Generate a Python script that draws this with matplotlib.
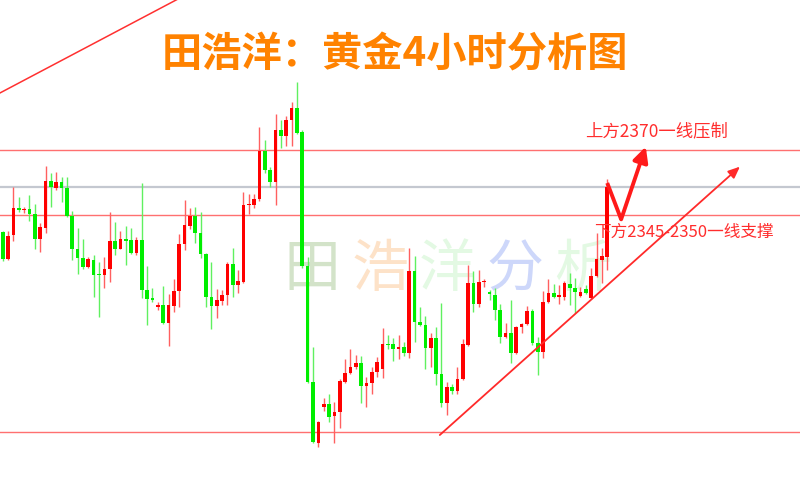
import matplotlib
matplotlib.use("Agg")
import matplotlib.pyplot as plt

plt.rcParams['font.family'] = ['Noto Sans CJK SC', 'DejaVu Sans']

# Gold 4-hour candles (price)
opens = [2345.4, 2337.3, 2344.5, 2352.6, 2352.0, 2352.3, 2350.8, 2343.3, 2346.6, 2360.7,
         2358.6, 2360.4, 2358.6, 2350.2, 2340.3, 2337.6, 2334.9, 2337.0, 2332.8, 2332.5,
         2334.3, 2342.7, 2340.3, 2343.3, 2343.0, 2339.1, 2343.0, 2328.0, 2325.6, 2322.9,
         2323.5, 2318.1, 2323.2, 2327.7, 2341.8, 2347.2, 2350.2, 2345.1, 2338.8, 2325.9,
         2323.2, 2324.7, 2326.5, 2335.8, 2329.5, 2330.4, 2353.5, 2353.5, 2355.3, 2369.7,
         2364.0, 2360.4, 2376.0, 2374.2, 2379.0, 2382.6, 2375.4, 2335.2, 2300.4, 2282.1,
         2292.9, 2293.8, 2290.2, 2291.4, 2300.4, 2303.1, 2304.9, 2306.1, 2299.2, 2300.1,
         2303.4, 2304.3, 2311.8, 2311.8, 2310.3, 2310.9, 2309.1, 2333.7, 2318.4, 2317.5,
         2310.6, 2313.6, 2302.8, 2294.1, 2298.9, 2297.7, 2301.3, 2311.5, 2330.1, 2323.8,
         2330.4, 2327.4, 2326.5, 2322.0, 2313.9, 2315.1, 2309.1, 2316.9, 2317.8, 2321.7,
         2312.1, 2309.4, 2324.4, 2327.1, 2326.0, 2325.9, 2329.8, 2328.6, 2326.2, 2328.3,
         2325.6, 2332.2, 2337.0, 2337.9]
highs = [2345.6, 2345.7, 2358.9, 2355.9, 2352.9, 2356.5, 2353.8, 2348.1, 2365.2, 2363.1,
         2363.4, 2361.9, 2361.9, 2351.7, 2346.6, 2343.3, 2337.9, 2338.5, 2336.4, 2337.9,
         2351.4, 2348.4, 2345.7, 2347.2, 2346.6, 2343.9, 2360.1, 2335.2, 2328.6, 2324.4,
         2329.2, 2326.8, 2331.3, 2344.8, 2355.0, 2352.6, 2352.9, 2351.4, 2339.1, 2336.4,
         2328.3, 2328.0, 2336.4, 2340.6, 2334.0, 2357.4, 2356.8, 2356.8, 2376.9, 2373.0,
         2364.9, 2380.8, 2379.0, 2380.2, 2384.4, 2390.4, 2376.0, 2337.9, 2310.9, 2288.7,
         2295.6, 2296.8, 2294.4, 2301.3, 2307.3, 2310.3, 2308.5, 2308.2, 2301.9, 2304.9,
         2307.9, 2316.6, 2314.5, 2313.6, 2314.5, 2312.4, 2340.6, 2338.2, 2322.9, 2320.2,
         2315.1, 2316.9, 2324.1, 2300.4, 2299.8, 2304.9, 2313.3, 2335.5, 2333.7, 2334.0,
         2331.3, 2328.0, 2328.6, 2323.8, 2318.1, 2325.0, 2317.2, 2318.1, 2323.2, 2322.3,
         2313.9, 2327.7, 2331.3, 2329.8, 2329.5, 2330.7, 2333.1, 2331.6, 2328.9, 2329.5,
         2334.6, 2345.1, 2340.6, 2361.3]
lows = [2336.7, 2337.0, 2342.7, 2351.4, 2351.1, 2348.7, 2340.3, 2339.4, 2345.1, 2352.9,
        2358.0, 2354.4, 2349.9, 2337.0, 2332.8, 2334.3, 2334.6, 2325.9, 2319.9, 2328.6,
        2330.4, 2338.5, 2340.3, 2335.5, 2338.8, 2338.5, 2325.6, 2317.5, 2324.4, 2322.0,
        2317.8, 2311.2, 2321.4, 2322.9, 2340.0, 2346.3, 2342.1, 2337.6, 2322.9, 2316.3,
        2319.6, 2323.5, 2323.5, 2325.9, 2327.1, 2330.1, 2350.8, 2352.6, 2354.7, 2363.1,
        2358.9, 2353.5, 2370.6, 2371.2, 2371.2, 2374.8, 2334.6, 2300.1, 2282.1, 2280.9,
        2291.7, 2288.4, 2282.1, 2286.6, 2300.1, 2302.8, 2304.3, 2294.1, 2292.9, 2296.8,
        2301.9, 2301.6, 2310.3, 2306.7, 2307.3, 2308.2, 2307.6, 2312.4, 2317.2, 2304.3,
        2304.9, 2299.5, 2292.9, 2290.5, 2296.8, 2296.8, 2301.0, 2311.2, 2321.4, 2322.9,
        2328.9, 2325.0, 2319.0, 2312.1, 2313.6, 2306.1, 2308.8, 2315.1, 2317.5, 2311.5,
        2302.5, 2307.6, 2324.1, 2325.6, 2323.8, 2325.0, 2323.5, 2321.1, 2325.9, 2326.8,
        2325.3, 2331.9, 2330.1, 2334.0]
closes = [2337.3, 2344.2, 2352.6, 2352.0, 2352.3, 2350.8, 2343.3, 2346.9, 2360.7, 2358.9,
          2360.4, 2358.6, 2350.2, 2340.3, 2337.6, 2334.9, 2337.3, 2332.5, 2332.5, 2334.3,
          2342.7, 2340.3, 2343.3, 2342.7, 2339.1, 2343.0, 2328.0, 2325.3, 2325.0, 2323.5,
          2318.1, 2323.5, 2327.7, 2341.8, 2347.5, 2350.2, 2345.1, 2338.8, 2325.9, 2323.2,
          2325.0, 2326.5, 2335.8, 2329.5, 2330.7, 2353.5, 2353.8, 2355.3, 2369.7, 2364.0,
          2360.4, 2376.0, 2374.2, 2379.0, 2382.6, 2375.1, 2335.2, 2300.4, 2282.4, 2288.4,
          2293.8, 2289.9, 2291.4, 2300.7, 2303.1, 2304.9, 2306.1, 2299.2, 2300.1, 2303.4,
          2306.4, 2311.8, 2311.5, 2310.3, 2310.9, 2309.1, 2333.7, 2318.4, 2317.5, 2310.6,
          2313.6, 2302.8, 2294.1, 2298.9, 2297.7, 2301.3, 2311.8, 2330.1, 2323.8, 2330.4,
          2330.7, 2326.8, 2322.0, 2313.9, 2315.1, 2309.1, 2316.9, 2317.8, 2321.7, 2312.1,
          2309.4, 2324.4, 2327.1, 2325.9, 2326.3, 2330.1, 2328.6, 2327.4, 2327.4, 2327.1,
          2332.2, 2337.3, 2338.2, 2358.9]

# Horizontal levels
resistance = 2370.0
support = 2350.5
range_low = 2285.5

# Trend lines: (bar index, price) end points
uptrend = [(81.7, 2284.5), (137.8, 2365.0)]
old_line = [(-3.0, 2385.0), (33.0, 2415.5)]
path_arrow = [(113.0, 2360.1), (115.6, 2349.2), (120.2, 2371.0)]

title = "田浩洋：黄金4小时分析图"
label_res = "上方2370一线压制"
label_sup = "下方2345-2350一线支撑"
watermark = ["田", "浩", "洋", "分", "析"]
watermark_colors = ["#d3e3c9", "#fde2c8", "#e3f9e3", "#cdd7fa", "#e3f9e3"]

UP = "#ff0000"
DOWN = "#00ee00"

fig = plt.figure(figsize=(8, 4.8), dpi=100)
ax = fig.add_axes([0, 0, 1, 1])
ax.set_xlim(-0.505, 149.03)
ax.set_ylim(2271.0, 2415.0)
ax.axis("off")

# watermark behind everything
for i, (ch, col) in enumerate(zip(watermark, watermark_colors)):
    ax.text(0.39 + i * 0.0845, 0.438, ch, transform=ax.transAxes, fontsize=41,
            color=col, ha="center", va="center", zorder=0)

# levels
ax.axhline(resistance, color="#ff7070", lw=1.0, zorder=1)
ax.axhline(support, color="#ff7070", lw=1.0, zorder=1)
ax.axhline(range_low, color="#ff7070", lw=1.0, zorder=1)
ax.axhline(closes[-1], color="#c4c8d0", lw=1.6, zorder=1)

# candles
xs = list(range(len(opens)))
for x, o, h, l, c in zip(xs, opens, highs, lows, closes):
    col = UP if c >= o else DOWN
    wick = "#ff6060" if c >= o else "#60f060"
    ax.vlines(x, l, h, color=wick, lw=1.0, zorder=2)
    bottom = min(o, c)
    height = max(abs(c - o), 0.35)
    ax.bar(x, height, bottom=bottom, width=0.68, color=col, lw=0, zorder=3)

# trend lines
ax.plot([p[0] for p in old_line], [p[1] for p in old_line], color="#ff3030", lw=1.1, zorder=2)
ax.annotate("", xy=uptrend[1], xytext=uptrend[0],
            arrowprops=dict(arrowstyle="-|>,head_length=0.7,head_width=0.3",
                            color="#ff2a2a", lw=1.3, shrinkA=0, shrinkB=0), zorder=4)

# projected path
ax.plot([path_arrow[0][0], path_arrow[1][0]], [path_arrow[0][1], path_arrow[1][1]],
        color="#ff1a1a", lw=2.8, solid_capstyle="butt", zorder=5)
ax.annotate("", xy=path_arrow[2], xytext=path_arrow[1],
            arrowprops=dict(arrowstyle="-|>,head_length=0.9,head_width=0.45",
                            color="#ff1a1a", lw=2.8, shrinkA=0, shrinkB=0), zorder=5)

# labels
ax.text(0.731, 0.727, label_res, transform=ax.transAxes, fontsize=12.5,
        color="#ff2d2d", ha="left", va="center", zorder=6)
ax.text(0.742, 0.515, label_sup, transform=ax.transAxes, fontsize=12,
        color="#ff2d2d", ha="left", va="center", zorder=6)

fig.text(0.494, 0.885, title, fontsize=29, color="#ff8200", ha="center",
         va="center", fontweight="bold")

fig.savefig("out.png", dpi=100, facecolor="white")
